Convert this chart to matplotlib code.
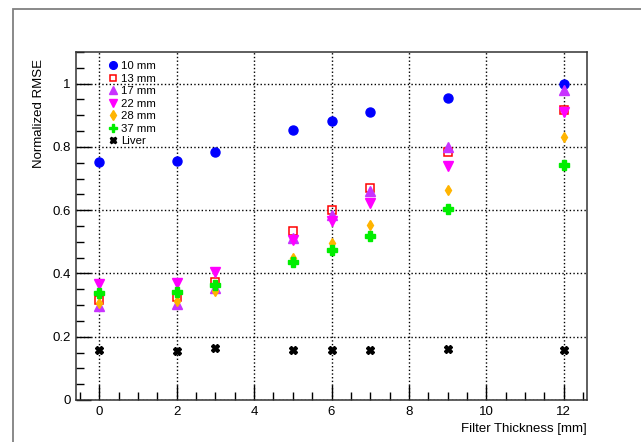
import numpy as np
import matplotlib
matplotlib.use("Agg")
import matplotlib.pyplot as plt
from matplotlib.patches import Rectangle
from matplotlib.ticker import MultipleLocator

plt.rcParams["font.family"] = ["Liberation Sans", "DejaVu Sans"]

thickness = [0, 2, 3, 5, 6, 7, 9, 12]
labels = ["10 mm", "13 mm", "17 mm", "22 mm", "28 mm", "37 mm", "Liver"]
rmse_10 = [0.751, 0.756, 0.783, 0.853, 0.883, 0.910, 0.955, 1.0]
rmse_13 = [0.316, 0.327, 0.374, 0.533, 0.601, 0.670, 0.783, 0.918]
rmse_17 = [0.297, 0.304, 0.354, 0.512, 0.585, 0.662, 0.800, 0.981]
rmse_22 = [0.367, 0.371, 0.406, 0.505, 0.567, 0.622, 0.741, 0.909]
rmse_28 = [0.308, 0.314, 0.343, 0.448, 0.496, 0.552, 0.665, 0.831]
rmse_37 = [0.338, 0.340, 0.364, 0.436, 0.473, 0.517, 0.604, 0.744]
rmse_liver = [0.158, 0.156, 0.163, 0.158, 0.158, 0.158, 0.160, 0.158]

series = [rmse_10, rmse_13, rmse_17, rmse_22, rmse_28, rmse_37, rmse_liver]
styles = [
    dict(marker="o", color="#0000ff", ms=6.5),
    dict(marker="s", color="#ff0000", ms=5.5, mfc="none", mew=1.1),
    dict(marker="^", color="#c832ff", ms=6.5),
    dict(marker="v", color="#ff00ff", ms=6.5),
    dict(marker="d", color="#ffb400", ms=5.5),
    dict(marker="P", color="#00ee00", ms=6.5),
    dict(marker="X", color="#000000", ms=5.5),
]

fig = plt.figure(figsize=(6.41, 4.42), dpi=100)
# outer canvas frame
fig.add_artist(Rectangle((13 / 641, -0.05), 1.0, 1 - 9 / 442 + 0.05,
                         transform=fig.transFigure, fill=False,
                         edgecolor="#808080", lw=1.3))
ax = fig.add_axes([76 / 641, 1 - 400 / 442, 511 / 641, 348 / 442])

for y, st, lab in zip(series, styles, labels):
    ax.plot(thickness, y, ls="none", label=lab, **st)

ax.set_xlim(-0.6, 12.6)
ax.set_ylim(0, 1.1)
ax.xaxis.set_major_locator(MultipleLocator(2))
ax.xaxis.set_minor_locator(MultipleLocator(0.5))
ax.yaxis.set_major_locator(MultipleLocator(0.2))
ax.yaxis.set_minor_locator(MultipleLocator(0.05))
ax.set_yticks([0, 0.2, 0.4, 0.6, 0.8, 1.0])
ax.set_yticklabels(["0", "0.2", "0.4", "0.6", "0.8", "1"])
ax.tick_params(which="major", direction="in", length=11, width=1, labelsize=9.5, pad=4)
ax.tick_params(which="minor", direction="in", length=6, width=1)
ax.tick_params(top=False, right=False)
ax.grid(True, which="major", ls=":", color="black", lw=1)
for s in ax.spines.values():
    s.set_color("#333333")
    s.set_linewidth(1.1)

ax.set_xlabel("Filter Thickness [mm]", fontsize=9.5, ha="right", x=1.0)
ax.set_ylabel("Normalized RMSE", fontsize=9.5, ha="right", y=0.98, labelpad=5)

ax.legend(loc="upper left", bbox_to_anchor=(0.045, 1.0), frameon=False,
          fontsize=8.2, handlelength=0.8, handletextpad=0.3, labelspacing=0.22,
          borderaxespad=0.4, markerscale=0.85)

fig.savefig("out.png", dpi=100)
